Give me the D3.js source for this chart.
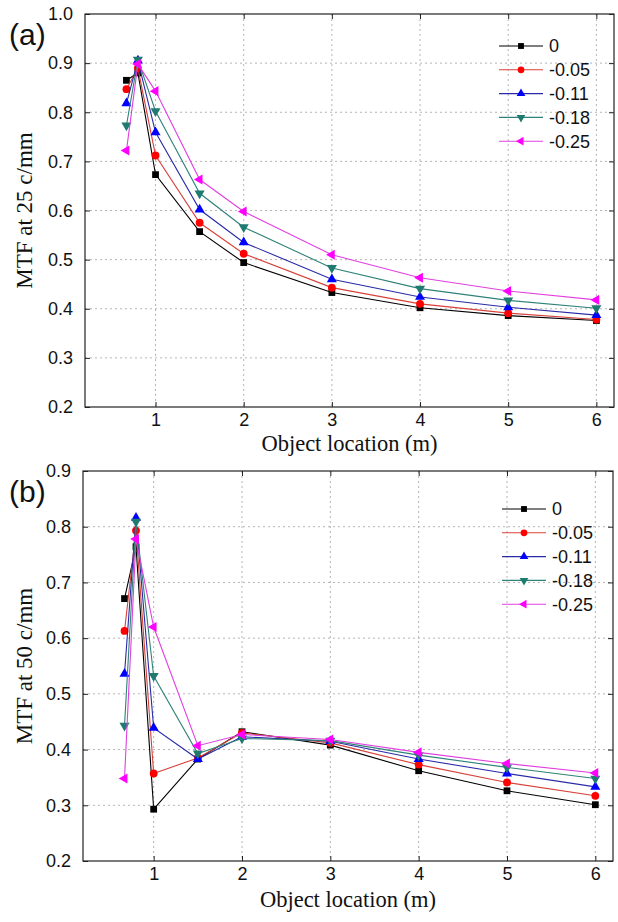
<!DOCTYPE html>
<html>
<head>
<meta charset="utf-8">
<script src="https://cdn.jsdelivr.net/npm/d3@7"></script>
<style>
  body { margin: 0; background: #fff; }
  svg { display: block; }
</style>
</head>
<body>
<svg id="chart"></svg>
<script>
// Размеры картинки
const width = 618;
const height = 922;

// Положение объекта (м)
const xValues = [0.67, 0.8, 1, 1.5, 2, 3, 4, 5, 6];
const xTicks = [1, 2, 3, 4, 5, 6];

// Подписи серий
const seriesNames = ['0', '-0.05', '-0.11', '-0.18', '-0.25'];

// MTF при 25 c/mm
const mtf25 = [
  [0.865, 0.880, 0.673, 0.557, 0.494, 0.433, 0.402, 0.386, 0.376],
  [0.847, 0.890, 0.712, 0.575, 0.512, 0.443, 0.410, 0.391, 0.378],
  [0.818, 0.905, 0.759, 0.602, 0.535, 0.460, 0.424, 0.403, 0.387],
  [0.773, 0.907, 0.802, 0.635, 0.566, 0.483, 0.441, 0.417, 0.401],
  [0.722, 0.898, 0.843, 0.663, 0.598, 0.510, 0.463, 0.436, 0.418]
];
const yTicks25 = [0.2, 0.3, 0.4, 0.5, 0.6, 0.7, 0.8, 0.9, 1.0];

// MTF при 50 c/mm
const mtf50 = [
  [0.671, 0.764, 0.293, 0.383, 0.432, 0.408, 0.362, 0.326, 0.301],
  [0.613, 0.793, 0.357, 0.385, 0.430, 0.412, 0.373, 0.341, 0.317],
  [0.536, 0.816, 0.439, 0.383, 0.423, 0.415, 0.383, 0.357, 0.333],
  [0.443, 0.809, 0.532, 0.393, 0.420, 0.416, 0.390, 0.368, 0.348],
  [0.348, 0.778, 0.620, 0.407, 0.427, 0.418, 0.395, 0.375, 0.358]
];
const yTicks50 = [0.2, 0.3, 0.4, 0.5, 0.6, 0.7, 0.8, 0.9];

// Цвета и маркеры серий
const lineColors = ['#000000', '#d8403a', '#2a2aa8', '#2e8277', '#e040e0'];
const markColors = ['#000000', '#ff0000', '#0000ff', '#1f7a70', '#ff00ff'];
const markers = [
  { type: d3.symbolSquare, size: 46, rotate: 0 },
  { type: d3.symbolCircle, size: 48, rotate: 0 },
  { type: d3.symbolTriangle, size: 44, rotate: 0 },
  { type: d3.symbolTriangle, size: 44, rotate: 180 },
  { type: d3.symbolTriangle, size: 44, rotate: -90 }
];

const svg = d3.select('#chart')
  .attr('width', width)
  .attr('height', height);

svg.append('rect').attr('width', width).attr('height', height).attr('fill', '#fff');

function drawPanel(cfg) {
  const g = svg.append('g');

  const x = d3.scaleLinear().domain([0.2, 6.2]).range([cfg.left, cfg.right]);
  const y = d3.scaleLinear().domain(cfg.yDomain).range([cfg.bottom, cfg.top]);

  // Сетка
  g.append('g').selectAll('line').data(xTicks).join('line')
    .attr('x1', d => x(d)).attr('x2', d => x(d))
    .attr('y1', cfg.top).attr('y2', cfg.bottom)
    .attr('stroke', '#b4b4b4').attr('stroke-width', 1)
    .attr('stroke-dasharray', '2,3');

  g.append('g').selectAll('line').data(cfg.yTicks.slice(1, -1)).join('line')
    .attr('x1', cfg.left).attr('x2', cfg.right)
    .attr('y1', d => y(d)).attr('y2', d => y(d))
    .attr('stroke', '#b4b4b4').attr('stroke-width', 1)
    .attr('stroke-dasharray', '2,3');

  // Оси
  const xAxis = g.append('g').attr('transform', `translate(0, ${cfg.bottom})`)
    .call(d3.axisBottom(x).tickValues(xTicks).tickSize(-5).tickPadding(6).tickFormat(d3.format('d')));
  const yAxis = g.append('g').attr('transform', `translate(${cfg.left}, 0)`)
    .call(d3.axisLeft(y).tickValues(cfg.yTicks).tickSize(-5).tickPadding(12).tickFormat(d3.format('.1f')));
  const xTop = g.append('g').attr('transform', `translate(0, ${cfg.top})`)
    .call(d3.axisTop(x).tickValues(xTicks).tickSize(-5).tickFormat(''));
  const yRight = g.append('g').attr('transform', `translate(${cfg.right}, 0)`)
    .call(d3.axisRight(y).tickValues(cfg.yTicks).tickSize(-5).tickFormat(''));

  [xAxis, yAxis, xTop, yRight].forEach(a => {
    a.select('.domain').remove();
    a.selectAll('text')
      .attr('font-family', '"Liberation Sans", Arial, sans-serif')
      .attr('font-size', 18)
      .attr('fill', '#111');
    a.selectAll('line').attr('stroke', '#222');
  });

  // Рамка
  g.append('rect')
    .attr('x', cfg.left).attr('y', cfg.top)
    .attr('width', cfg.right - cfg.left).attr('height', cfg.bottom - cfg.top)
    .attr('fill', 'none').attr('stroke', '#222').attr('stroke-width', 1.2);

  // Линии и маркеры
  const line = d3.line().x((d, i) => x(xValues[i])).y(d => y(d));

  cfg.values.forEach((vals, s) => {
    g.append('path').datum(vals)
      .attr('fill', 'none')
      .attr('stroke', lineColors[s])
      .attr('stroke-width', 1.1)
      .attr('d', line);

    g.append('g').selectAll('path').data(vals).join('path')
      .attr('transform', (d, i) => `translate(${x(xValues[i])}, ${y(d)}) rotate(${markers[s].rotate})`)
      .attr('d', d3.symbol().type(markers[s].type).size(markers[s].size))
      .attr('fill', markColors[s]);
  });

  // Легенда
  const legend = g.append('g').attr('transform', `translate(${cfg.legendX}, ${cfg.legendY})`);
  seriesNames.forEach((name, s) => {
    const row = legend.append('g').attr('transform', `translate(0, ${s * 23.8})`);
    row.append('line')
      .attr('x1', 0).attr('x2', 44)
      .attr('stroke', lineColors[s]).attr('stroke-width', 1.1);
    row.append('path')
      .attr('transform', `translate(22, 0) rotate(${markers[s].rotate})`)
      .attr('d', d3.symbol().type(markers[s].type).size(markers[s].size * 0.75))
      .attr('fill', markColors[s]);
    row.append('text')
      .attr('x', 50).attr('y', 0).attr('dy', '0.35em')
      .attr('font-family', '"Liberation Sans", Arial, sans-serif')
      .attr('font-size', 18)
      .attr('fill', '#111')
      .text(name);
  });

  // Подписи осей
  g.append('text')
    .attr('x', (cfg.left + cfg.right) / 2)
    .attr('y', cfg.bottom + cfg.xLabelDy)
    .attr('text-anchor', 'middle')
    .attr('font-family', '"Liberation Serif", "Times New Roman", serif')
    .attr('font-size', 22.5)
    .attr('fill', '#111')
    .text('Object location (m)');

  g.append('text')
    .attr('transform', `translate(32, ${(cfg.top + cfg.bottom) / 2}) rotate(-90)`)
    .attr('text-anchor', 'middle')
    .attr('font-family', '"Liberation Serif", "Times New Roman", serif')
    .attr('font-size', 23)
    .attr('fill', '#111')
    .text(cfg.yLabel);

  // Метка панели
  g.append('text')
    .attr('x', 9).attr('y', cfg.top + 31)
    .attr('font-family', '"Liberation Sans", Arial, sans-serif')
    .attr('font-size', 30)
    .attr('fill', '#111')
    .text(cfg.tag);
}

drawPanel({
  tag: '(a)', yLabel: 'MTF at 25 c/mm',
  left: 85, right: 614, top: 14, bottom: 407,
  yDomain: [0.2, 1.0], yTicks: yTicks25, values: mtf25,
  legendX: 499, legendY: 46, xLabelDy: 44
});

drawPanel({
  tag: '(b)', yLabel: 'MTF at 50 c/mm',
  left: 83, right: 613, top: 471, bottom: 861,
  yDomain: [0.2, 0.9], yTicks: yTicks50, values: mtf50,
  legendX: 502, legendY: 509, xLabelDy: 46
});
</script>
</body>
</html>
